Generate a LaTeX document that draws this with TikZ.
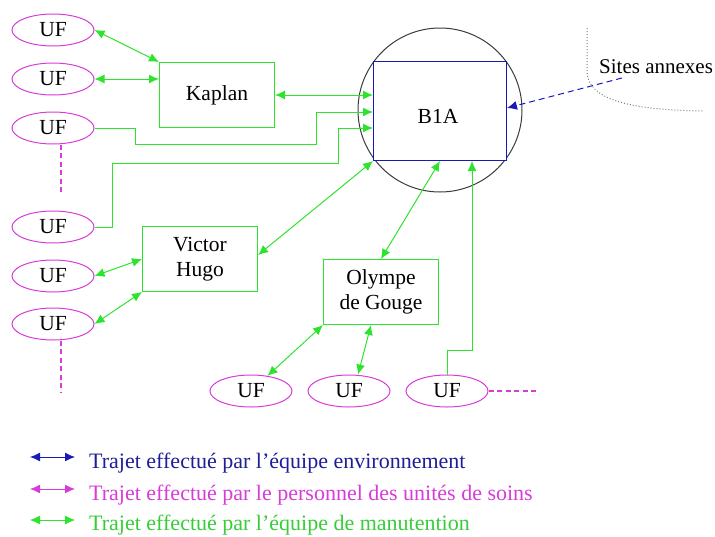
\documentclass[tikz,border=0pt]{standalone}
\usepackage{fontspec}
\setmainfont{Liberation Serif}
\usetikzlibrary{arrows.meta,shapes.geometric,calc}
\definecolor{mygreen}{RGB}{45,228,45}
\definecolor{mymag}{RGB}{215,60,215}
\definecolor{myblue}{RGB}{25,25,185}
\definecolor{txtblue}{RGB}{30,30,150}
\definecolor{txtgreen}{RGB}{55,205,55}
\definecolor{mygray}{RGB}{60,60,60}
\tikzset{
  tip/.tip={Latex[length=10pt,width=9pt]},
  uf/.style={ellipse,draw=mymag,line width=1pt,minimum width=82pt,minimum height=32pt,inner sep=0pt,font=\fontsize{21.5}{24}\selectfont},
  bld/.style={rectangle,draw=mygreen,line width=1pt,minimum width=115pt,minimum height=65pt,align=center,inner sep=0pt,font=\fontsize{21.5}{25.5}\selectfont},
  gl/.style={draw=mygreen,line width=1pt},
  garr/.style={gl,tip-tip},
  gone/.style={gl,-tip},
  magdash/.style={draw=mymag,line width=1.3pt,dash pattern=on 5pt off 3.5pt},
  legtxt/.style={anchor=base west,inner sep=0pt,font=\fontsize{22}{24}\selectfont}
}
\begin{document}
\begin{tikzpicture}[x=1pt,y=-1pt]
\useasboundingbox (0,0) rectangle (715,536);
% B1A site
\node[circle,draw=mygray,line width=1pt,minimum size=164pt,inner sep=0pt] (site) at (440,110) {};
\node[rectangle,draw=myblue,line width=1pt,minimum width=133pt,minimum height=99pt,fill=white,inner sep=0pt] (b1a) at (440,111) {};
\node[font=\fontsize{21.5}{24}\selectfont] (b1atxt) at (438,116) {B1A};
% buildings
\node[bld] (kaplan) at (217,95) {Kaplan};
\node[bld] (vh) at (200,259) {Victor\\Hugo};
\node[bld] (og) at (381,292) {Olympe\\de Gouge};
% UFs
\node[uf] (uf1) at (53,30) {UF};
\node[uf] (uf2) at (53,79) {UF};
\node[uf] (uf3) at (53,128) {UF};
\node[uf] (uf4) at (53,227) {UF};
\node[uf] (uf5) at (53,276) {UF};
\node[uf] (uf6) at (53,324) {UF};
\node[uf] (ufb1) at (251,391) {UF};
\node[uf] (ufb2) at (349,391) {UF};
\node[uf] (ufb3) at (447,391) {UF};
% magenta dashed continuations
\coordinate (d1) at (61,194);
\coordinate (d2) at (61,392);
\coordinate (d3) at (538,391);
\draw[magdash] ([xshift=8pt]uf3.south) -- (d1);
\draw[magdash] ([xshift=8pt]uf6.south) -- (d2);
\draw[magdash] (ufb3.east) -- (d3);
% sites annexes
\draw[draw=gray,line width=1pt,dotted] (587,28) -- (587,72) .. controls (588,98) and (625,110) .. (703,111);
\node[anchor=west,inner sep=0pt,font=\fontsize{21}{24}\selectfont] (sites) at (599,67) {Sites annexes};
\coordinate (sa) at (622,78);
\draw[draw=myblue,line width=1pt,dash pattern=on 6pt off 4pt,-tip] (sa) -- ([yshift=3pt]b1a.east);
% green connectors
\draw[garr] (uf1.east) -- (kaplan.north west);
\draw[garr] (uf2.east) -- (kaplan.west |- uf2.east);
\draw[garr] (b1a.west |- kaplan.east) -- (kaplan.east);
\draw[gone] (uf3.east) -- (135,128) -- (135,144) -- (316,144) -- (316,112) -- ([yshift=-1pt]b1a.west);
\draw[gone] (uf4.east) -- (112,227) -- (112,163) -- (338,163) -- (338,128) -- ([yshift=-17pt]b1a.west);
\draw[garr] (b1a.south west) -- ([yshift=4pt]vh.east);
\draw[garr] (vh.west) -- (uf5.east);
\draw[garr] (vh.south west) -- (uf6.east);
\draw[garr] (b1a.south) -- (og.north);
\draw[garr] (og.south west) -- (ufb1);
\draw[garr] ([xshift=-10pt]og.south) -- ([xshift=9pt]ufb2.north);
\draw[gone] (ufb3.north) -- (447,350) -- (472,350) -- (b1a.south -| 472,0);
% legend
\coordinate (la1) at (30,457); \coordinate (lb1) at (75,457);
\coordinate (la2) at (30,489); \coordinate (lb2) at (75,489);
\coordinate (la3) at (30,520); \coordinate (lb3) at (75,520);
\draw[draw=myblue,line width=1pt,tip-tip] (la1) -- (lb1);
\draw[draw=mymag,line width=1pt,tip-tip] (la2) -- (lb2);
\draw[draw=mygreen,line width=1pt,tip-tip] (la3) -- (lb3);
\node[legtxt,text=txtblue] (l1) at (89,468) {Trajet effectué par l’équipe environnement};
\node[legtxt,text=mymag] (l2) at (89,500) {Trajet effectué par le personnel des unités de soins};
\node[legtxt,text=txtgreen] (l3) at (89,530) {Trajet effectué par l’équipe de manutention};
\end{tikzpicture}
\end{document}
